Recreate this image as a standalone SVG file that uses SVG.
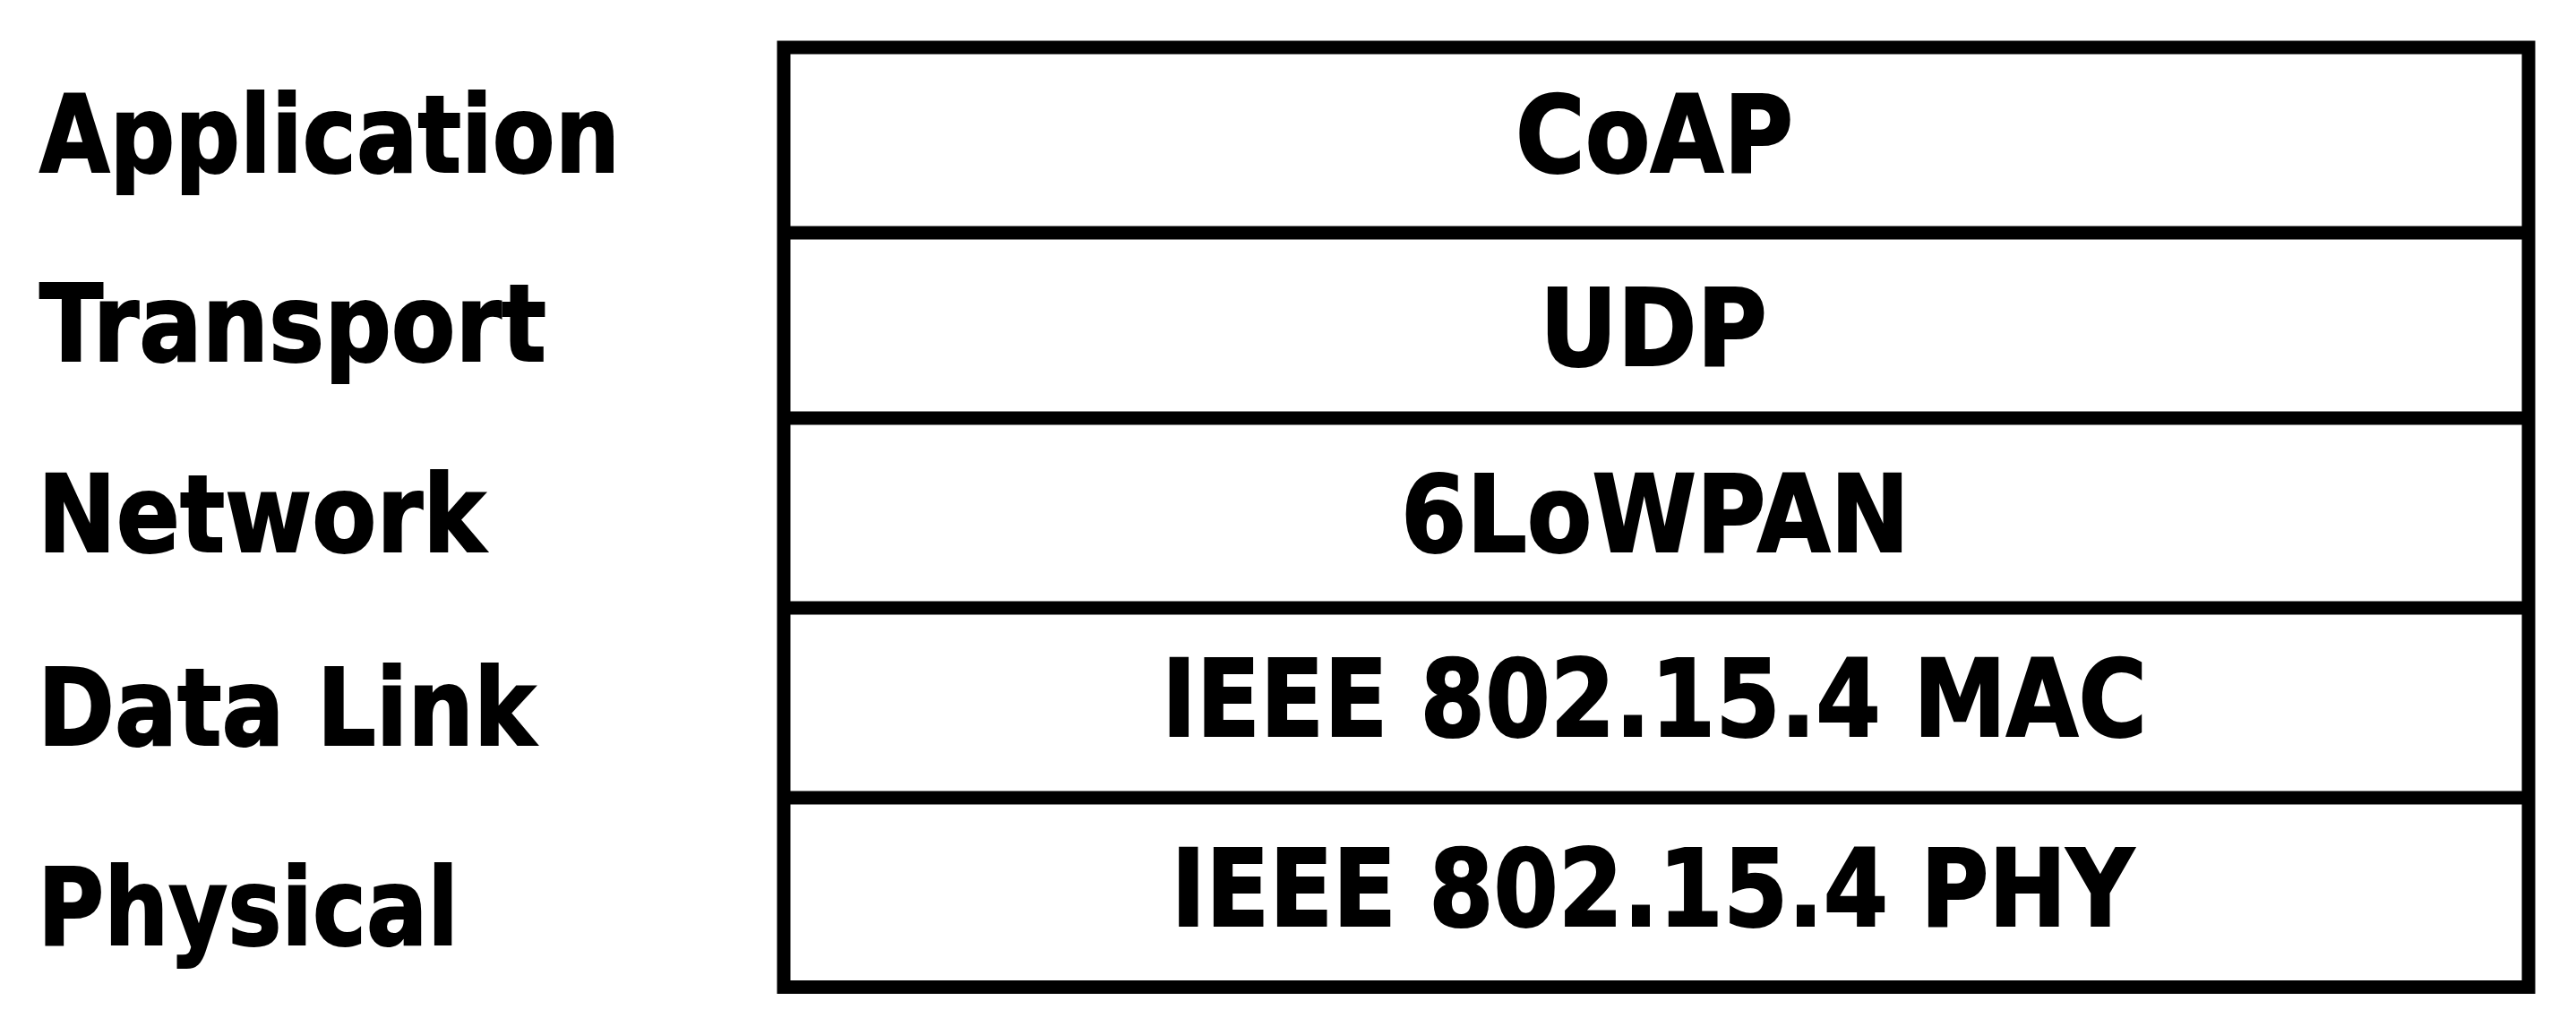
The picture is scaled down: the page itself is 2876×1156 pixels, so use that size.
<svg xmlns="http://www.w3.org/2000/svg" width="2876" height="1156" viewBox="0 0 2876 1156">
  <style>
    .lbl { font-family: "DejaVu Sans", "Liberation Sans", sans-serif; font-weight: bold; font-size: 119px; fill: #000; stroke: #000; stroke-width: 2; }
    .mid { text-anchor: middle; }
    .frame { fill: none; stroke: #000; stroke-width: 15; }
    .div { stroke: #000; stroke-width: 15; }
  </style>
  <rect x="0" y="0" width="2876" height="1156" fill="#fff"/>
  <g id="layer-names">
    <text class="lbl" x="44" y="192" textLength="648" lengthAdjust="spacingAndGlyphs">Application</text>
    <text class="lbl" x="44" y="403" textLength="566" lengthAdjust="spacingAndGlyphs">Transport</text>
    <text class="lbl" x="42" y="616" textLength="500" lengthAdjust="spacingAndGlyphs">Network</text>
    <text class="lbl" x="42" y="832" textLength="556" lengthAdjust="spacingAndGlyphs">Data Link</text>
    <text class="lbl" x="42" y="1055" textLength="470" lengthAdjust="spacingAndGlyphs">Physical</text>
  </g>
  <g id="stack">
    <rect class="frame" x="875" y="53" width="1948" height="1049.5"/>
  </g>
  <g id="connectors">
    <line class="div" x1="875" y1="260" x2="2823" y2="260"/>
    <line class="div" x1="875" y1="467" x2="2823" y2="467"/>
    <line class="div" x1="875" y1="679" x2="2823" y2="679"/>
    <line class="div" x1="875" y1="891" x2="2823" y2="891"/>
  </g>
  <g id="coap"><text class="lbl mid" x="1847" y="192" textLength="310" lengthAdjust="spacingAndGlyphs">CoAP</text></g>
  <g id="udp"><text class="lbl mid" x="1846" y="408" textLength="254" lengthAdjust="spacingAndGlyphs">UDP</text></g>
  <g id="sixlowpan"><text class="lbl mid" x="1848" y="616" textLength="568" lengthAdjust="spacingAndGlyphs">6LoWPAN</text></g>
  <g id="mac"><text class="lbl mid" x="1847" y="822" textLength="1100" lengthAdjust="spacingAndGlyphs">IEEE 802.15.4 MAC</text></g>
  <g id="phy"><text class="lbl mid" x="1845" y="1034" textLength="1075" lengthAdjust="spacingAndGlyphs">IEEE 802.15.4 PHY</text></g>
</svg>
